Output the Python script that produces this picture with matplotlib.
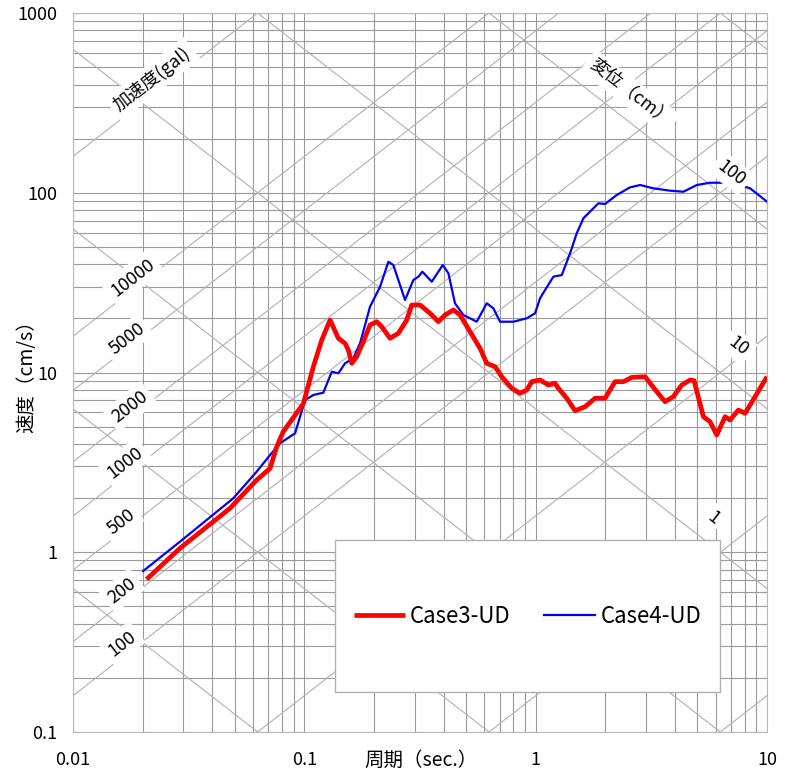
"""
Tripartite velocity response spectrum, Case3-UD / Case4-UD.
Output: out.png
"""
import math

import matplotlib
matplotlib.use("Agg")
import matplotlib.pyplot as plt
from matplotlib.patches import Rectangle
from matplotlib.ticker import LogLocator, NullFormatter

plt.rcParams["font.family"] = ["Noto Sans CJK JP", "DejaVu Sans"]

# ---------------------------------------------------------------------------
# data (period in s, pseudo velocity in cm/s)
# ---------------------------------------------------------------------------
case3_T = [0.0208, 0.029, 0.0477, 0.0622, 0.0711, 0.076, 0.0811, 0.099,
           0.1094, 0.1189, 0.1292, 0.1403, 0.15, 0.155, 0.1603, 0.1684, 0.1799,
           0.1923, 0.2056, 0.2161, 0.2347, 0.2549, 0.2772, 0.2912, 0.3164, 0.3496,
           0.3797, 0.4058, 0.4407, 0.4711, 0.5205, 0.5749, 0.6146, 0.6675, 0.7135,
           0.788, 0.8563, 0.9152, 0.9618, 1.0447, 1.135, 1.213, 1.2535, 1.3631,
           1.48, 1.635, 1.806, 1.995, 2.204, 2.394, 2.603, 2.972, 3.339, 3.625,
           3.938, 4.282, 4.65, 4.84, 5.309, 5.675, 6.067, 6.59, 6.927, 7.52, 8.04,
           8.884, 10.0]
case3_Sv = [0.707, 1.052, 1.756, 2.52, 2.93, 3.87, 4.69, 6.70,
            10.77, 15.16, 19.59, 15.50, 14.54, 13.34, 11.25, 12.24, 14.84,
            18.38, 19.17, 17.98, 15.50, 16.52, 19.59, 23.74, 23.74, 21.35,
            19.17, 20.89, 22.27, 20.89, 16.87, 13.63, 11.25, 10.77, 9.475,
            8.17, 7.66, 7.99, 8.89, 9.08, 8.52, 8.71, 8.17, 7.19,
            6.13, 6.45, 7.19, 7.19, 8.89, 8.89, 9.40, 9.475, 7.82, 6.88,
            7.34, 8.52, 9.08, 9.0, 5.68, 5.32, 4.49, 5.68, 5.44, 6.18, 5.93,
            7.34, 9.475]

case4_T = [0.0201, 0.029, 0.0493, 0.0622, 0.0711, 0.0785, 0.0912, 0.1007, 0.1094,
           0.1208, 0.1314, 0.1403, 0.15, 0.1628, 0.1741, 0.1923, 0.2125, 0.2308,
           0.2425, 0.2725, 0.296, 0.3111, 0.3238, 0.3555, 0.3967, 0.4195, 0.448,
           0.4868, 0.5563, 0.6146, 0.6562, 0.7016, 0.8011, 0.9152, 0.994, 1.0447,
           1.098, 1.193, 1.2969, 1.408, 1.505, 1.608, 1.867, 1.995, 2.242, 2.559,
           2.828, 3.228, 3.811, 4.35, 4.971, 5.675, 6.479, 7.3, 8.453, 10.0]
case4_Sv = [0.786, 1.145, 1.996, 2.806, 3.475, 4.04, 4.59, 7.03, 7.50,
            7.72, 10.10, 9.90, 11.25, 12.0, 14.54, 23.23, 30.01, 41.33,
            39.63, 25.31, 32.7, 34.12, 36.38, 32.0, 39.63, 35.64, 24.27,
            20.89, 19.17, 24.27, 22.76, 19.17, 19.17, 20.02, 21.35, 25.87,
            28.77, 34.12, 34.86, 46.03, 59.5, 72.1, 87.4, 86.6, 97.2, 107.2,
            110.4, 105.8, 102.7, 101.3, 110.4, 113.7, 113.7, 112.0, 105.8, 89.2]

# tripartite guide lines
accel_lines = [0.1, 1, 10, 100, 200, 500, 1000, 2000, 5000, 10000, 100000, 1000000]  # gal
disp_lines = [0.001, 0.01, 0.1, 1, 10, 100, 1000, 10000]                              # cm

# guide labels: (text, value, period at label, offset above line in px)
accel_labels = [("加速度(gal)", 100000, 0.0220, 16),
                ("10000", 10000, 0.0181, 12),
                ("5000", 5000, 0.0171, 10),
                ("2000", 2000, 0.0176, 11),
                ("1000", 1000, 0.0168, 13),
                ("500", 500, 0.0161, 11),
                ("200", 200, 0.0163, 13),
                ("100", 100, 0.0163, 14)]
disp_labels = [("変位（cm）", 100, 2.56, 30),
               ("100", 100, 7.0, 28),
               ("10", 10, 7.5, 40),
               ("1", 1, 5.85, 29)]

x_ticks = [0.01, 0.1, 1, 10]
x_ticklabels = ["0.01", "0.1", "1", "10"]
y_ticks = [0.1, 1, 10, 100, 1000]
y_ticklabels = ["0.1", "1", "10", "100", "1000"]

GRID = "#9a9a9a"
DIAG = "#b0b0b0"
PX2PT = 72 / 100


def main() -> None:
    W, H = 792, 776
    fig = plt.figure(figsize=(W / 100, H / 100), dpi=100)
    ax = fig.add_axes([73 / W, 1 - 732 / H, 694 / W, 719 / H])
    ax.set_xscale("log")
    ax.set_yscale("log")
    ax.set_xlim(0.01, 10)
    ax.set_ylim(0.1, 1000)

    # rectangular log grid
    for axis in (ax.xaxis, ax.yaxis):
        axis.set_minor_locator(LogLocator(base=10, subs=range(2, 10)))
        axis.set_minor_formatter(NullFormatter())
    ax.grid(True, which="both", color=GRID, linewidth=0.8, zorder=0)
    ax.set_axisbelow(True)
    for s in ax.spines.values():
        s.set_color("#b8b8b8")
        s.set_linewidth(0.8)

    ax.set_xticks(x_ticks, labels=x_ticklabels)
    ax.set_yticks(y_ticks, labels=y_ticklabels)
    ax.tick_params(which="both", length=0)
    ax.tick_params(axis="x", pad=14, labelsize=13)
    ax.tick_params(axis="y", pad=11, labelsize=13)

    # diagonal lines: Sv = Sa*T/(2pi) and Sv = 2pi*Sd/T
    T_end = [0.01, 10]
    for a in accel_lines:
        ax.plot(T_end, [a * t / (2 * math.pi) for t in T_end],
                color=DIAG, lw=0.8, zorder=1)
    for d in disp_lines:
        ax.plot(T_end, [2 * math.pi * d / t for t in T_end],
                color=DIAG, lw=0.8, zorder=1)

    # screen angle of a slope +1 line
    p0 = ax.transData.transform((0.01, 1))
    p1 = ax.transData.transform((1, 100))
    ang = math.degrees(math.atan2(p1[1] - p0[1], p1[0] - p0[0]))

    box = dict(boxstyle="square,pad=0.25", fc="white", ec="none")
    for txt, a, t, off in accel_labels:
        ax.annotate(txt, (t, a * t / (2 * math.pi)), xytext=(0, off * PX2PT),
                    textcoords="offset points", rotation=ang,
                    rotation_mode="anchor", ha="center", va="center",
                    fontsize=13, bbox=box, zorder=8)
    for txt, d, t, off in disp_labels:
        ax.annotate(txt, (t, 2 * math.pi * d / t), xytext=(0, off * PX2PT),
                    textcoords="offset points", rotation=-ang,
                    rotation_mode="anchor", ha="center", va="center",
                    fontsize=13, bbox=box, zorder=8)

    # spectra
    ax.plot(case4_T, case4_Sv, color="#0000ff", lw=1.6, label="Case4-UD", zorder=4,
            solid_joinstyle="round")
    ax.plot(case3_T, case3_Sv, color="#ff0000", lw=3.4, label="Case3-UD", zorder=5,
            solid_joinstyle="round", solid_capstyle="butt")

    # legend in a big white box
    ax.add_patch(Rectangle((0.3775, 0.0556), 0.5548, 0.2114, transform=ax.transAxes,
                           fc="white", ec="#b0b0b0", lw=1.0, zorder=9))
    handles, labels = ax.get_legend_handles_labels()
    leg = ax.legend(handles[::-1], labels[::-1], loc="center",
                    bbox_to_anchor=(0.655, 0.161), ncol=2, frameon=False,
                    fontsize=16, handlelength=2.3, handletextpad=0.25,
                    columnspacing=1.5)
    leg.set_zorder(10)

    fig.text(421 / W, 1 - 760 / H, "周期（sec.）", ha="center", va="center", fontsize=14)
    fig.text(27 / W, 1 - 372 / H, "速度（cm/s）", ha="center", va="center",
             rotation=90, fontsize=14)

    fig.savefig("out.png", dpi=100)
    plt.close(fig)


if __name__ == "__main__":
    main()
